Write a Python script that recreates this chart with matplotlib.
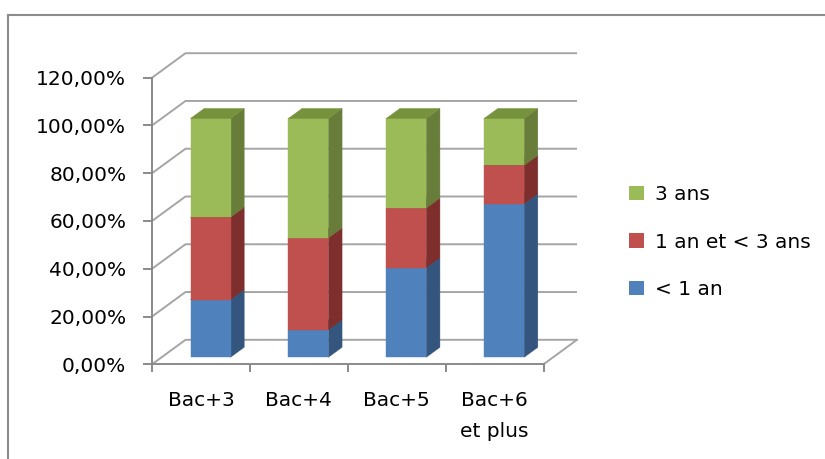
import matplotlib
matplotlib.use("Agg")
import matplotlib.pyplot as plt
from matplotlib.patches import Polygon, Patch
from matplotlib.lines import Line2D
import numpy as np

# ---- data ----
categories = ["Bac+3", "Bac+4", "Bac+5", "Bac+6\net plus"]
less_1 = [24.14, 11.54, 37.50, 64.29]
one_to_3 = [34.48, 38.46, 25.00, 16.07]
three = [41.38, 50.00, 37.50, 19.64]
series_names = ["< 1 an", "1 an et < 3 ans", "3 ans"]
yticks = [0, 20, 40, 60, 80, 100, 120]

front_cols = ["#4F81BD", "#C0504D", "#9BBB59"]
side_cols = ["#34557D", "#7D2E2D", "#677D39"]
top_cols = ["#3F6797", "#9A3F3D", "#76923C"]

plt.rcParams['font.family'] = ['DejaVu Sans']
FS = 14.5
W, H = 825, 459
fig = plt.figure(figsize=(W / 100, H / 100), dpi=100)

# front axis pixels
x0, x1 = 152, 543.5
y0, y120 = 364.3, 77.7
ax = fig.add_axes([x0 / W, (H - y0) / H, (x1 - x0) / W, (y0 - y120) / H])
ax.set_xlim(0, 4)
ax.set_ylim(0, 120)

px_x = (x1 - x0) / 4.0
px_y = (y0 - y120) / 120.0
DX = 33.5 / px_x        # depth in x data units
DY = 24.5 / px_y        # depth in y data units

grid_col = "#A5A5A5"
axis_col = "#8A8A8A"
lw = 1.4

# back wall gridlines + side wall diagonals
for v in yticks:
    ax.plot([0, DX, 4 + DX], [v, v + DY, v + DY], color=grid_col, lw=lw,
            clip_on=False, zorder=1, solid_capstyle='butt')
# floor right diagonal
ax.plot([4, 4 + DX], [0, DY], color=grid_col, lw=lw, clip_on=False, zorder=1)

# axes spines
for s in ["top", "right"]:
    ax.spines[s].set_visible(False)
for s in ["left", "bottom"]:
    ax.spines[s].set_color(axis_col)
    ax.spines[s].set_linewidth(lw)
ax.set_facecolor("none")

ax.set_yticks(yticks)
ax.set_yticklabels([("%.2f%%" % v).replace(".", ",") for v in yticks])
ax.tick_params(axis='y', direction='out', length=6.5, width=lw, color=axis_col,
               pad=12, labelsize=FS)
ax.set_xticks([0, 1, 2, 3, 4])
ax.set_xticklabels([])
ax.tick_params(axis='x', which='major', direction='out', length=5.8, width=lw,
               color=axis_col)
ax.set_xticks([0.5, 1.5, 2.5, 3.5], minor=True)
ax.set_xticklabels(categories, minor=True, fontsize=FS, linespacing=1.8)
ax.tick_params(axis='x', which='minor', length=0, pad=19)

# bars
f0, f1 = 0.286, 0.694
bw = 40 / px_x
series = [less_1, one_to_3, three]
centers = np.arange(len(categories)) + 0.5
z = 3
for i, c in enumerate(centers):
    bottom = 0.0
    fx = c + f0 * DX
    fy = f0 * DY
    ddx = (f1 - f0) * DX
    ddy = (f1 - f0) * DY
    for k, vals in enumerate(series):
        v = vals[i]
        xl, xr = fx - bw / 2, fx + bw / 2
        yb, yt = bottom + fy, bottom + v + fy
        side = Polygon([[xr, yb], [xr + ddx, yb + ddy], [xr + ddx, yt + ddy], [xr, yt]],
                       closed=True, facecolor=side_cols[k], edgecolor=side_cols[k],
                       lw=0.3, zorder=z, clip_on=False)
        ax.add_patch(side)
        ax.bar([fx], [v], width=bw, bottom=[yb], color=front_cols[k],
               edgecolor=front_cols[k], lw=0.3, zorder=z + 1, clip_on=False)
        top = Polygon([[xl, yt], [xl + ddx, yt + ddy], [xr + ddx, yt + ddy], [xr, yt]],
                      closed=True, facecolor=top_cols[k], edgecolor=top_cols[k],
                      lw=0.3, zorder=z + 2, clip_on=False)
        ax.add_patch(top)
        z += 3
        bottom += v

# legend
handles = [Patch(facecolor=front_cols[k], edgecolor='none') for k in (2, 1, 0)]
labels = [series_names[k] for k in (2, 1, 0)]
fig.legend(handles, labels, loc='center left',
           bbox_to_anchor=(629 / W, (H - 242) / H), frameon=False,
           fontsize=FS, handlelength=0.75, handleheight=0.7,
           handletextpad=0.55, labelspacing=1.42, borderpad=0, borderaxespad=0)

# chart border
fig.add_artist(Line2D([8 / W, 8 / W], [(H - 15) / H, -0.1], color="#8C8C8C", lw=1.5))
fig.add_artist(Line2D([8 / W, 1.1], [(H - 15) / H, (H - 15) / H], color="#8C8C8C", lw=1.5))

fig.savefig("out.png", dpi=100, facecolor="white")
